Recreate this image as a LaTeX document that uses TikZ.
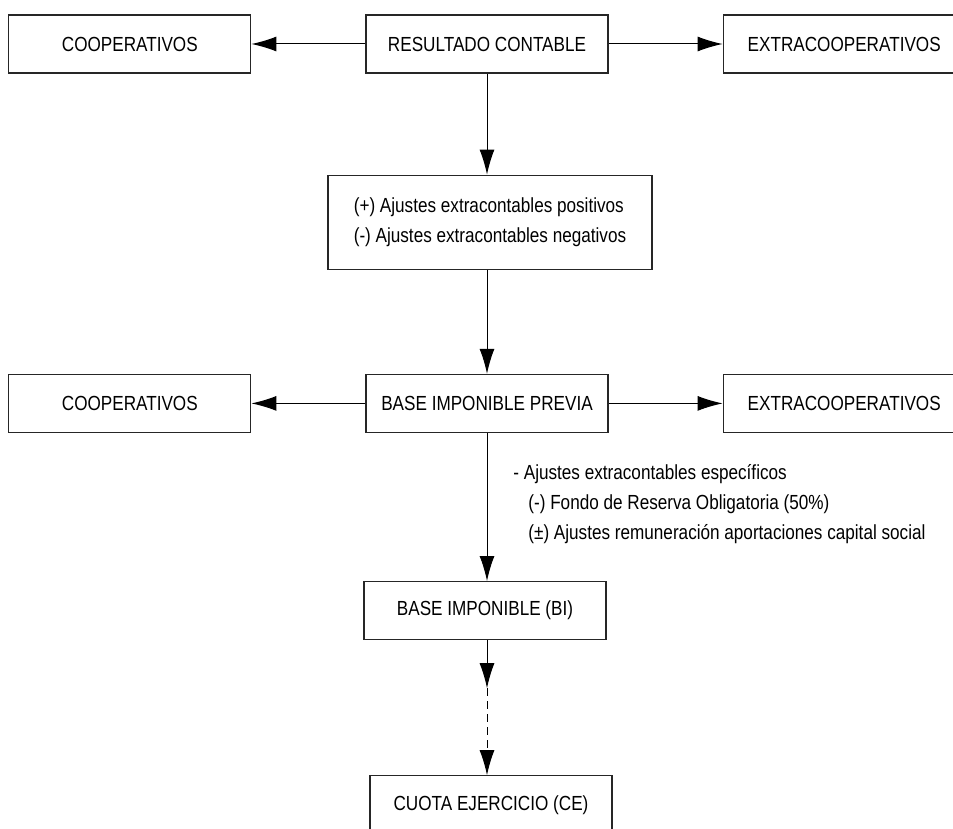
\documentclass[tikz,border=0pt]{standalone}
\usepackage{fontspec}
\setmainfont{Liberation Sans}[FakeStretch=0.84]
\usetikzlibrary{positioning, arrows.meta}

\tikzset{
	caja/.style = {draw = black!85, line width = 0.6pt, minimum width = 121pt, minimum height = 29pt, inner sep = 0pt},
	flecha/.style = {draw, line width = 0.5pt, -{Latex[length = 12.5pt, width = 7.5pt]}},
}

\begin{document}
\begin{tikzpicture}[font = \fontsize{10.2pt}{15pt}\selectfont]
		\useasboundingbox (0,0) rectangle (476.5pt,-414.5pt);
		\clip (0,0) rectangle (476.5pt,-414.5pt);

		\node [caja] (rc) at (243.5pt,-22pt) {RESULTADO CONTABLE};
		\node [caja, left = 57pt of rc] (coop1) {COOPERATIVOS};
		\node [caja, right = 57pt of rc] (extra1) {EXTRACOOPERATIVOS};
		\node [caja, align = left, minimum width = 162pt, minimum height = 47pt, below = 50.5pt of rc, xshift = 1.5pt] (ajustes)
			{(+) Ajustes extracontables positivos\\(-) Ajustes extracontables negativos};
		\node [caja, below = 52pt of ajustes.south -| rc] (bip) {BASE IMPONIBLE PREVIA};
		\node [caja, left = 57pt of bip] (coop2) {COOPERATIVOS};
		\node [caja, right = 57pt of bip] (extra2) {EXTRACOOPERATIVOS};
		\node [caja, below = 74pt of bip, xshift = -1pt] (bi) {BASE IMPONIBLE (BI)};
		\node [caja, below = 67.5pt of bi, xshift = 3pt] (ce) {CUOTA EJERCICIO (CE)};
		\node [align = left, inner sep = 0pt, anchor = north west] (notas) at ([xshift = 13pt, yshift = -15.5pt]bip.south)
			{- Ajustes extracontables espec\'ificos\\
			\hspace{7.5pt}(-) Fondo de Reserva Obligatoria (50\%)\\
			\hspace{7.5pt}(\textpm) Ajustes remuneraci\'on aportaciones capital social};
		\coordinate [below = 24pt of bi.south -| bip] (medio);

		\draw [flecha] (rc) -- (coop1);
		\draw [flecha] (rc) -- (extra1);
		\draw [flecha] (rc) -- (rc |- ajustes.north);
		\draw [flecha] (rc |- ajustes.south) -- (bip);
		\draw [flecha] (bip) -- (coop2);
		\draw [flecha] (bip) -- (extra2);
		\draw [flecha] (bip) -- (bip |- bi.north);
		\draw [flecha] (bip |- bi.south) -- (medio);
		\draw [flecha, dash pattern = on 4pt off 2.5pt] (medio) -- (medio |- ce.north);
	\end{tikzpicture}
\end{document}
